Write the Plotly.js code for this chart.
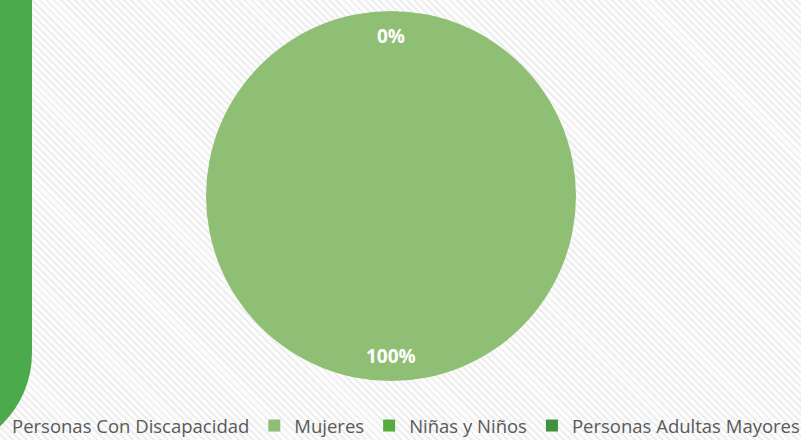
<!DOCTYPE html>
<html>
<head>
<meta charset="utf-8">
<script src="https://cdn.plot.ly/plotly-3.0.1.min.js"></script>
<style>
  html, body { margin: 0; padding: 0; width: 801px; height: 440px; overflow: hidden; }
  body {
    position: relative;
    background-color: #f6f6f6;
    background-image: repeating-linear-gradient(45deg, #fcfcfc 0px, #fcfcfc 3px, #eeeeee 3px, #eeeeee 5px);
  }
  #band {
    position: absolute; left: -200px; top: -50px; width: 232px; height: 503px;
    background: #4aaa4c; border-bottom-right-radius: 100px; z-index: 0;
  }
  /* the figure is a little wider than the window so the legend row fits on one line */
  #chart { position: absolute; left: -60px; top: 0; width: 861px; height: 440px; z-index: 1; }
</style>
</head>
<body>
<div id="band"></div>
<div id="chart"></div>
<script>
// Distribution by population group (share of total)
const groups = ['Personas Con Discapacidad', 'Mujeres', 'Niñas y Niños', 'Personas Adultas Mayores'];
const counts = [0, 100, 0, 0];
const groupColors = ['#a9d18e', '#8fbf74', '#5aab3d', '#3f9340'];

const figW = 861, figH = 440;
const pieDomainX = [266 / figW, 636 / figW];
const pieDomainY = [0, 1];

// Percent labels sit on each slice's mid-angle, near the rim
const total = counts.reduce((a, b) => a + b, 0);
const labelRadius = 0.865;
const cx = (pieDomainX[0] + pieDomainX[1]) / 2, rx = (pieDomainX[1] - pieDomainX[0]) / 2;
const cy = (pieDomainY[0] + pieDomainY[1]) / 2, ry = (pieDomainY[1] - pieDomainY[0]) / 2;
const seen = new Set();
const annotations = [];
let cum = 0;
counts.forEach((v) => {
  const frac = v / total;
  const mid = (cum + frac / 2) * 2 * Math.PI; // clockwise from 12 o'clock
  cum += frac;
  const x = cx + rx * labelRadius * Math.sin(mid);
  const y = cy + ry * labelRadius * Math.cos(mid);
  const key = x.toFixed(3) + ',' + y.toFixed(3);
  if (seen.has(key)) return;
  seen.add(key);
  annotations.push({
    x: x, y: y, xref: 'paper', yref: 'paper', showarrow: false,
    xanchor: 'center', yanchor: 'middle',
    text: Math.round(frac * 100) + '%',
    font: { family: 'Open Sans, sans-serif', size: 19, color: '#ffffff', weight: 'bold' }
  });
});

const trace = {
  type: 'pie',
  labels: groups,
  values: counts,
  sort: false,
  direction: 'clockwise',
  rotation: 0,
  marker: { colors: groupColors, line: { width: 0 } },
  textinfo: 'none',
  hoverinfo: 'label+percent',
  domain: { x: pieDomainX, y: pieDomainY }
};

const layout = {
  width: figW, height: figH,
  margin: { l: 0, r: 0, t: 11, b: 59, autoexpand: false },
  paper_bgcolor: 'rgba(0,0,0,0)',
  plot_bgcolor: 'rgba(0,0,0,0)',
  showlegend: true,
  legend: {
    orientation: 'h',
    x: 32 / figW, xanchor: 'left',
    y: (381 - 426) / 370, yanchor: 'middle',
    font: { family: 'Open Sans, sans-serif', size: 18.5, color: '#595959' },
    bgcolor: 'rgba(0,0,0,0)'
  },
  annotations: annotations
};

Plotly.newPlot('chart', [trace], layout, { displayModeBar: false, staticPlot: true });
</script>
</body>
</html>
